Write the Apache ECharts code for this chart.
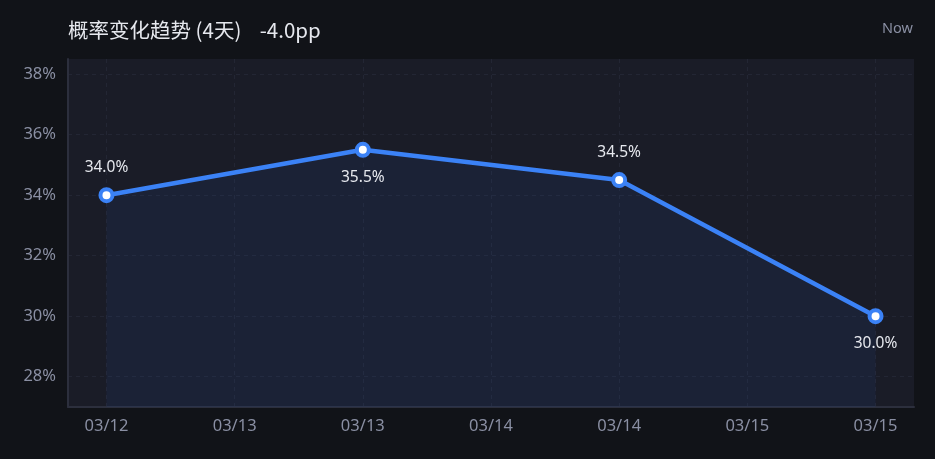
<!DOCTYPE html>
<html>
<head>
<meta charset="utf-8">
<script src="https://cdn.jsdelivr.net/npm/echarts@6/dist/echarts.min.js"></script>
<style>
  html, body { margin: 0; padding: 0; background: #111318; }
  #chart { width: 935px; height: 459px; }
</style>
</head>
<body>
<div id="chart"></div>
<script>
// 日期标签 (按天), 数据点位于第 0..3 天
var dayLabels = ['03/12', '03/13', '03/14', '03/15'];
var dayIndex = [0, 1, 2, 3];
var probValues = [34.0, 35.5, 34.5, 30.0];
var labelPos = ['top', 'bottom', 'top', 'bottom'];
var xTicks = [0, 0.5, 1, 1.5, 2, 2.5, 3];
var yTicks = [28, 30, 32, 34, 36, 38];

var myChart = echarts.init(document.getElementById('chart'));

var seriesData = [];
for (var i = 0; i < probValues.length; i++) {
    seriesData.push({
        value: [dayIndex[i], probValues[i]],
        label: { position: labelPos[i] }
    });
}

var option = {
    backgroundColor: '#111318',
    animation: false,
    textStyle: { fontFamily: '"Noto Sans", "Noto Sans CJK SC", sans-serif' },
    title: [{
        text: '概率变化趋势 (4天)    -4.0pp',
        left: 63,
        top: 15,
        textStyle: { color: '#e6e8ee', fontSize: 20.5, fontWeight: 'normal', fontFamily: '"Noto Sans CJK SC", "Noto Sans", sans-serif' }
    }, {
        text: 'Now',
        right: 17,
        top: 17,
        textStyle: { color: '#8a8fa3', fontSize: 14.5, fontWeight: 'normal' }
    }],
    grid: {
        left: 68,
        right: 21,
        top: 59,
        bottom: 52,
        show: true,
        backgroundColor: '#1a1c27',
        borderWidth: 0
    },
    xAxis: {
        type: 'value',
        min: -0.15,
        max: 3.15,
        axisLine: { show: true, lineStyle: { color: '#2c2f3d', width: 2 } },
        axisTick: { show: false, customValues: xTicks },
        axisLabel: {
            customValues: xTicks,
            color: '#8a8fa3',
            fontSize: 16.5,
            margin: 11,
            formatter: function (v) {
                return dayLabels[Math.ceil(v - 1e-6)];
            }
        },
        splitLine: { show: true, lineStyle: { color: '#232634', type: [4, 4] } }
    },
    yAxis: {
        type: 'value',
        min: 27,
        max: 38.5,
        axisLine: { show: true, onZero: false, lineStyle: { color: '#2c2f3d', width: 2 } },
        axisTick: { show: false, customValues: yTicks },
        axisLabel: {
            customValues: yTicks,
            color: '#8a8fa3',
            fontSize: 16.5,
            margin: 12,
            formatter: '{value}%'
        },
        splitLine: { show: true, lineStyle: { color: '#232634', type: [4, 4] } }
    },
    series: [{
        type: 'line',
        data: seriesData,
        symbol: 'circle',
        symbolSize: 12,
        lineStyle: { color: '#3b82f6', width: 4.5 },
        itemStyle: { color: '#ffffff', borderColor: '#3b82f6', borderWidth: 4 },
        areaStyle: { color: 'rgba(40, 95, 190, 0.14)', origin: 'start' },
        label: {
            show: true,
            color: '#e6e8ee',
            fontSize: 15.5,
            distance: 12,
            formatter: function (p) {
                return p.value[1].toFixed(1) + '%';
            }
        }
    }]
};

myChart.setOption(option);
window.addEventListener('resize', function () {
    myChart.resize();
});
</script>
</body>
</html>
